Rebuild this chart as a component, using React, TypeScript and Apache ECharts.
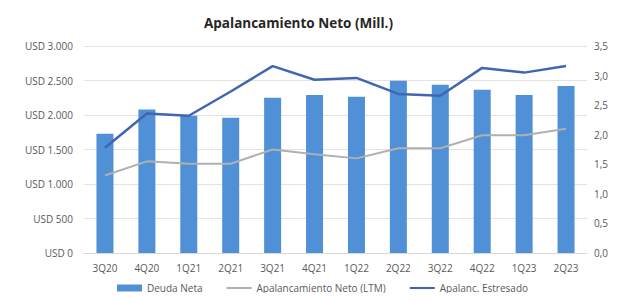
import React, { useEffect, useRef } from "react";
import * as echarts from "echarts";

const categories = ["3Q20", "4Q20", "1Q21", "2Q21", "3Q21", "4Q21", "1Q22", "2Q22", "3Q22", "4Q22", "1Q23", "2Q23"];
const deudaNeta = [1730, 2080, 1990, 1960, 2250, 2290, 2265, 2495, 2440, 2365, 2290, 2420];
const apalancLTM = [1.31, 1.55, 1.51, 1.51, 1.75, 1.67, 1.6, 1.77, 1.77, 1.99, 1.99, 2.1];
const apalancEstresado = [1.78, 2.36, 2.32, 2.73, 3.16, 2.93, 2.96, 2.69, 2.66, 3.13, 3.05, 3.16];

const FONT = "'Open Sans', 'Liberation Sans', sans-serif";
const LINE_ICON = "path://M0,0H120V10H0Z";

export default function App() {
  const ref = useRef<HTMLDivElement>(null);
  useEffect(() => {
    if (!ref.current) return;
    const chart = echarts.init(ref.current, undefined, { renderer: "svg" });
    chart.setOption({
      animation: false,
      backgroundColor: "#ffffff",
      title: {
        text: "Apalancamiento Neto (Mill.)",
        left: 199,
        top: 11,
        textStyle: { fontFamily: FONT, fontSize: 13.5, fontWeight: "bold", color: "#262626" },
      },
      grid: { left: 84, right: 30, top: 46, bottom: 48 },
      legend: {
        bottom: 3,
        left: 112,
        itemGap: 24,
        itemWidth: 25,
        itemHeight: 7,
        textStyle: { fontFamily: FONT, fontSize: 10, color: "#595959" },
        data: [
          { name: "Deuda Neta", icon: "rect" },
          { name: "Apalancamiento Neto (LTM)", icon: LINE_ICON },
          { name: "Apalanc. Estresado", icon: LINE_ICON },
        ],
      },
      xAxis: {
        type: "category",
        data: categories,
        axisLine: { show: true, lineStyle: { color: "#d9d9d9" } },
        axisTick: { show: false },
        axisLabel: { fontFamily: FONT, fontSize: 10, color: "#595959", margin: 10 },
      },
      yAxis: [
        {
          type: "value",
          min: 0,
          max: 3000,
          interval: 500,
          axisLine: { show: false },
          axisTick: { show: false },
          splitLine: { lineStyle: { color: "#e3e3e3" } },
          axisLabel: {
            fontFamily: FONT,
            fontSize: 10,
            color: "#595959",
            margin: 11,
            formatter: (v: number) => "USD " + v.toString().replace(/\B(?=(\d{3})+(?!\d))/g, "."),
          },
        },
        {
          type: "value",
          min: 0,
          max: 3.5,
          interval: 0.5,
          axisLine: { show: false },
          axisTick: { show: false },
          splitLine: { show: false },
          axisLabel: {
            fontFamily: FONT,
            fontSize: 10,
            color: "#595959",
            margin: 7,
            formatter: (v: number) => v.toFixed(1).replace(".", ","),
          },
        },
      ],
      series: [
        {
          name: "Deuda Neta",
          type: "bar",
          data: deudaNeta,
          barWidth: 17,
          itemStyle: { color: "#4f90d6" },
        },
        {
          name: "Apalancamiento Neto (LTM)",
          type: "line",
          yAxisIndex: 1,
          data: apalancLTM,
          symbol: "none",
          lineStyle: { color: "#b0b0b0", width: 2 },
          itemStyle: { color: "#b0b0b0" },
        },
        {
          name: "Apalanc. Estresado",
          type: "line",
          yAxisIndex: 1,
          data: apalancEstresado,
          symbol: "none",
          lineStyle: { color: "#4166b0", width: 2.5 },
          itemStyle: { color: "#4166b0" },
        },
      ],
    });
    return () => chart.dispose();
  }, []);
  return <div ref={ref} style={{ width: 617, height: 301, margin: -8 }} />;
}
